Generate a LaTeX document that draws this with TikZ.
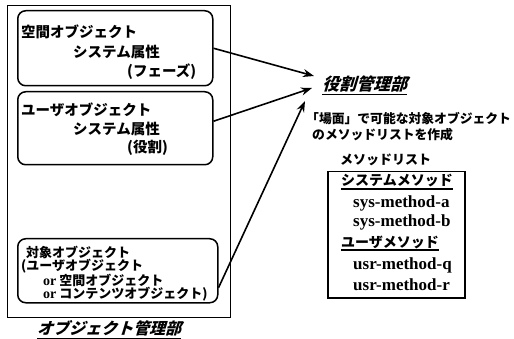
\documentclass[tikz,border=0pt]{standalone}
\usepackage{fontspec}
\setmainfont{Liberation Serif}
\newfontfamily\jp{Noto Sans CJK JP}[BoldFont={Noto Sans CJK JP Black}]
\newfontfamily\jpsl{Noto Sans CJK JP}[BoldFont={Noto Sans CJK JP Black},FakeSlant=0.3]
\usetikzlibrary{arrows.meta}
\newcommand{\jfs}[1]{\jp\bfseries\fontsize{#1}{#1}\selectfont}
\newcommand{\jsl}[1]{\jpsl\bfseries\fontsize{#1}{#1}\selectfont}
\begin{document}
\begin{tikzpicture}[x=1pt,y=-1pt,
  frame/.style={draw, line width=1.3pt, anchor=north west, inner sep=0pt},
  rbox/.style={draw, line width=1.5pt, rounded corners=8pt, anchor=north west, inner sep=0pt},
  tb/.style={anchor=west, inner sep=0pt, font=\jfs{14.5}},
  ts/.style={anchor=west, inner sep=0pt, font=\jfs{13}},
  tr/.style={anchor=west, inner sep=0pt, font=\jfs{12.8}},
  th/.style={anchor=west, inner sep=0pt, font=\jfs{14}},
  tm/.style={anchor=west, inner sep=0pt, font=\bfseries\fontsize{17}{17}\selectfont},
  tor/.style={font=\rmfamily\bfseries\fontsize{14}{14}\selectfont},
  ttl/.style={anchor=west, inner sep=0pt},
  uline/.style={line width=1.5pt},
  arr/.style={line width=1.6pt, -{Stealth[length=11pt,width=8pt]}}
]
\useasboundingbox (0,0) rectangle (514,339);
\fill[white] (0,0) rectangle (514,339);

% object management frame
\node[frame, minimum width=223pt, minimum height=312pt] (om) at (7,5) {};
\node[rbox, minimum width=195pt, minimum height=75pt] (b1) at (17,10) {};
\node[rbox, minimum width=195pt, minimum height=73pt] (b2) at (17,91) {};
\node[rbox, minimum width=200pt, minimum height=64pt] (b3) at (17,238) {};

\node[tb] (b1a) at (21,32) {空間オブジェクト};
\node[tb] (b1b) at (73,52) {システム属性};
\node[tb] (b1c) at (127,72) {(フェーズ)};

\node[tb] (b2a) at (21,110) {ユーザオブジェクト};
\node[tb] (b2b) at (73,129) {システム属性};
\node[tb] (b2c) at (127,148) {(役割)};

\node[ts] (b3a) at (26,252) {対象オブジェクト};
\node[ts] (b3b) at (21,266) {(ユーザオブジェクト};
\node[ts] (b3c) at (43,280) {{\rmfamily\bfseries\fontsize{14}{14}\selectfont or} 空間オブジェクト};
\node[ts] (b3d) at (43,294) {{\rmfamily\bfseries\fontsize{14}{14}\selectfont or} コンテンツオブジェクト)};

\node[ttl, font=\jsl{16}] (oml) at (37,328) {オブジェクト管理部};
\draw[uline] ([yshift=-2.5pt]oml.south west) -- ([yshift=-2.5pt]oml.south east);

% role management
\node[ttl, font=\jsl{17}] (rm) at (322,84) {役割管理部};
\draw[uline] ([yshift=-2pt]rm.south west) -- ([yshift=-2pt]rm.south east);

\node[tr] (d1) at (306,119) {「場面」で可能な対象オブジェクト};
\node[tr] (d2) at (312,135) {のメソッドリストを作成};

\node[ts] (ml) at (340,160) {メソッドリスト};
\node[rbox, rounded corners=0pt, minimum width=137pt, minimum height=126pt] (lb) at (327,171) {};
\node[th] (h1) at (341,181) {システムメソッド};
\draw[uline] ([yshift=-1.5pt]h1.south west) -- ([yshift=-1.5pt]h1.south east);
\node[tm] (m1) at (353,203) {sys-method-a};
\node[tm] (m2) at (353,222) {sys-method-b};
\node[th] (h2) at (341,242) {ユーザメソッド};
\draw[uline] ([yshift=-1.5pt]h2.south west) -- ([yshift=-1.5pt]h2.south east);
\node[tm] (m3) at (353,265) {usr-method-q};
\node[tm] (m4) at (353,285) {usr-method-r};

% arrows
\coordinate (t1) at (314,76);
\coordinate (t2) at (312,88);
\coordinate (t3) at (305,101);
\draw[arr] (b1.east) -- (t1);
\draw[arr] ([yshift=7pt]b2.east) -- (t2);
\draw[arr] ([yshift=-17pt]b3.east) -- (t3);
\end{tikzpicture}
\end{document}
